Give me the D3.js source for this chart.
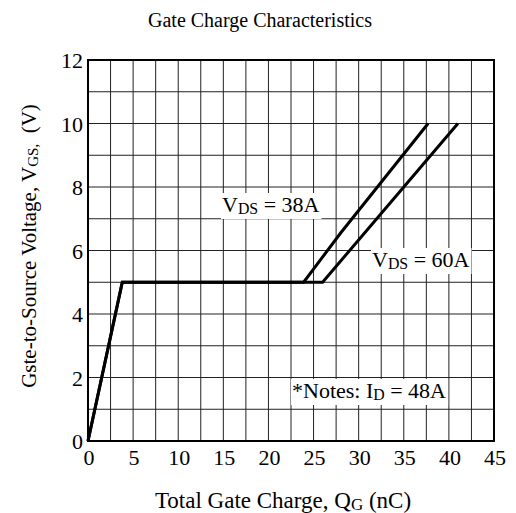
<!DOCTYPE html>
<html>
<head>
<meta charset="utf-8">
<script src="https://cdn.jsdelivr.net/npm/d3@7"></script>
<style>
  body { margin: 0; background: #fff; }
  text { font-family: "Liberation Serif", "Times New Roman", serif; fill: #000; }
</style>
</head>
<body>
<script>
// ---------------- DATA ----------------
var qgTicks = [0, 5, 10, 15, 20, 25, 30, 35, 40, 45]
var vgsTicks = [0, 2, 4, 6, 8, 10, 12]

// VDS = 38 curve (Qg nC, Vgs V)
var qg38 = [0, 3.8, 23.9, 28, 37.7]
var vgs38 = [0, 5, 5, 6.55, 10]
// VDS = 60 curve
var qg60 = [0, 3.8, 26.0, 41.0]
var vgs60 = [0, 5, 5, 10]

// ---------------- SVG ----------------
var width = 516, height = 513

var svg = d3.select('body').append('svg')
  .attr('width', width)
  .attr('height', height)

var x = d3.scaleLinear().domain([0, 45]).range([88, 494])
var y = d3.scaleLinear().domain([0, 12]).range([441, 60])

// grid
var grid = svg.append('g')
grid.selectAll('line.vx')
  .data(d3.range(2.5, 45, 2.5))
  .enter().append('line')
  .attr('x1', d => x(d)).attr('x2', d => x(d))
  .attr('y1', y(0)).attr('y2', y(12))
  .attr('stroke', '#222').attr('stroke-width', 1)

grid.selectAll('line.hy')
  .data(d3.range(1, 12, 1))
  .enter().append('line')
  .attr('x1', x(0)).attr('x2', x(45))
  .attr('y1', d => y(d)).attr('y2', d => y(d))
  .attr('stroke', '#222').attr('stroke-width', 1)

// frame
svg.append('rect')
  .attr('x', x(0)).attr('y', y(12))
  .attr('width', x(45) - x(0)).attr('height', y(0) - y(12))
  .attr('fill', 'none').attr('stroke', '#000').attr('stroke-width', 2)

// tick labels
svg.append('g').selectAll('text')
  .data(qgTicks)
  .enter().append('text')
  .attr('x', d => x(d) + 1)
  .attr('y', y(0) + 24)
  .attr('text-anchor', 'middle')
  .attr('font-size', 22)
  .text(d => d)

svg.append('g').selectAll('text')
  .data(vgsTicks)
  .enter().append('text')
  .attr('x', x(0) - 5)
  .attr('y', d => y(d) + 8)
  .attr('text-anchor', 'end')
  .attr('font-size', 22)
  .text(d => d)

// curves
var line = d3.line().x(d => x(d[0])).y(d => y(d[1]))

function drawCurve(qs, vs) {
  svg.append('path')
    .datum(qs.map((q, i) => [q, vs[i]]))
    .attr('d', line)
    .attr('fill', 'none')
    .attr('stroke', '#000')
    .attr('stroke-width', 3)
    .attr('stroke-linejoin', 'miter')
}
drawCurve(qg60, vgs60)
drawCurve(qg38, vgs38)

// labels with white box
function label(px, py, parts, size) {
  var g = svg.append('g')
  var bg = g.append('rect').attr('fill', '#fff')
  var t = g.append('text').attr('x', px).attr('y', py).attr('font-size', size)
  parts.forEach(function(p) {
    t.append('tspan')
      .attr('font-size', p.sub ? size * 0.72 : size)
      .attr('dy', p.dy || 0)
      .text(p.t)
  })
  var b = t.node().getBBox()
  bg.attr('x', b.x - 1).attr('y', b.y + 1).attr('width', b.width + 3).attr('height', b.height + 1)
}

label(222, 212, [{t: 'V'}, {t: 'DS', sub: true, dy: 2}, {t: ' = 38A', dy: -2}], 22)
label(372, 267, [{t: 'V'}, {t: 'DS', sub: true, dy: 2}, {t: ' = 60A', dy: -2}], 22)
label(292, 398, [{t: '*Notes: I'}, {t: 'D', sub: true, dy: 2}, {t: ' = 48A', dy: -2}], 22)

// title
svg.append('text')
  .attr('x', 260).attr('y', 27)
  .attr('text-anchor', 'middle')
  .attr('font-size', 20)
  .text('Gate Charge Characteristics')

// x axis title
var xt = svg.append('text')
  .attr('x', 283).attr('y', 508)
  .attr('text-anchor', 'middle')
  .attr('font-size', 23)
xt.append('tspan').text('Total Gate Charge, Q')
xt.append('tspan').attr('font-size', 17).attr('dy', 2).text('G')
xt.append('tspan').attr('dy', -2).text('\u00a0(nC)')

// y axis title
var yt = svg.append('text')
  .attr('transform', 'translate(36,' + 246 + ') rotate(-90)')
  .attr('text-anchor', 'middle')
  .attr('font-size', 21)
yt.append('tspan').text('Gste-to-Source Voltage, V')
yt.append('tspan').attr('font-size', 15).attr('dy', 2).text('GS,')
yt.append('tspan').attr('dy', -2).text('\u00a0\u00a0(V)')
</script>
</body>
</html>
